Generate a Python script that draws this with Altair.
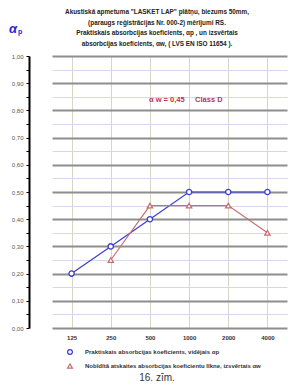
import altair as alt
import pandas as pd

# ---- data ----
freqs = ["125", "250", "500", "1000", "2000", "4000"]
alpha_p = [0.20, 0.30, 0.40, 0.50, 0.50, 0.50]
ref_curve = [None, 0.25, 0.45, 0.45, 0.45, 0.35]
series_names = [
    "Praktiskais absorbcijas koeficients, vidējais αp",
    "Nobīdītā atskaites absorbcijas koeficientu līkne, izsvērtais αw",
]
title_lines = [
    "Akustiskā apmetuma \"LASKET LAP\" plātņu, biezums 50mm,",
    "(paraugs reģistrācijas Nr. 000-2) mērījumi RS.",
    "Praktiskais absorbcijas koeficients, αp , un izsvērtais",
    "absorbcijas koeficients, αw, ( LVS EN ISO 11654 ).",
]
annotation = ["α\u00a0w\u00a0=\u00a00,45\u00a0\u00a0\u00a0\u00a0\u00a0Class\u00a0D"]
caption = ["16. zīm."]
y_ticks = [round(i * 0.05, 2) for i in range(21)]

rows = []
for f, a, r in zip(freqs, alpha_p, ref_curve):
    rows.append({"freq": f, "value": a, "series": series_names[0]})
    if r is not None:
        rows.append({"freq": f, "value": r, "series": series_names[1]})
df = pd.DataFrame(rows)

FONT = "Liberation Sans"
blue = "#3c3cd8"
red = "#c86e6e"

x_enc = alt.X(
    "freq:O",
    sort=freqs,
    scale=alt.Scale(type="point", range=[23, 258]),
    axis=alt.Axis(
        title=None, labelAngle=0, domain=False, ticks=False, grid=True,
        gridColor="#d6d6c4", gridWidth=1, labelFontSize=6, labelFontWeight="bold",
        labelColor="#333333", labelFont=FONT, labelPadding=6,
    ),
)
y_enc = alt.Y(
    "value:Q",
    scale=alt.Scale(domain=[0, 1], nice=False),
    axis=alt.Axis(
        title=None, values=y_ticks, grid=True,
        gridColor={"condition": {"test": "round(datum.value*100) % 10 == 0", "value": "#8e8e8e"}, "value": "#d6d6ee"},
        gridWidth={"condition": {"test": "round(datum.value*100) % 10 == 0", "value": 2}, "value": 1},
        labelExpr="round(datum.value*100) % 10 == 0 ? replace(format(datum.value, '.2f'), '.', ',') : ''",
        labelFontSize=6, labelColor="#555555", labelFont=FONT, labelPadding=3,
        domainColor="#000000", domainWidth=2, tickColor="#000000", tickSize=3, tickWidth=1,
    ),
)
color_scale = alt.Scale(domain=series_names, range=[blue, red])
shape_scale = alt.Scale(domain=series_names, range=["circle", "triangle-up"])

legend = alt.Legend(
    title=None, orient="none", legendX=38, legendY=293, direction="vertical",
    labelFontSize=6, labelFontWeight="bold", labelFont=FONT, labelColor="#333333",
    symbolSize=22, symbolStrokeWidth=1.3, symbolFillColor="white", rowPadding=4,
    labelLimit=300, labelOffset=12,
)

base = alt.Chart(df)

lines = base.mark_line(strokeWidth=1.2).encode(
    x=x_enc, y=y_enc,
    color=alt.Color("series:N", scale=color_scale, legend=legend),
)
points = base.mark_point(filled=False, fill="white", size=28, strokeWidth=1.3, opacity=1).encode(
    x=x_enc, y=y_enc,
    color=alt.Color("series:N", scale=color_scale, legend=legend),
    shape=alt.Shape("series:N", scale=shape_scale, legend=legend),
)

title_text = alt.Chart(pd.DataFrame({"t": ["\n".join(title_lines)]})).mark_text(
    font=FONT, fontSize=6.4, fontWeight="bold", color="#222222", align="center", baseline="top",
    lineBreak="\n", lineHeight=10.5,
).encode(x=alt.value(128), y=alt.value(-47), text="t:N")

alpha_label = alt.Chart(pd.DataFrame({"t": ["α"]})).mark_text(
    font=FONT, fontSize=13, fontWeight="bold", fontStyle="italic", color="#2a2ad0", align="left", baseline="middle"
).encode(x=alt.value(-20), y=alt.value(-27), text="t:N")
alpha_sub = alt.Chart(pd.DataFrame({"t": ["p"]})).mark_text(
    font=FONT, fontSize=7, fontWeight="bold", color="#2a2ad0", align="left", baseline="middle"
).encode(x=alt.value(-11), y=alt.value(-24), text="t:N")

ann = alt.Chart(pd.DataFrame({"t": annotation})).mark_text(
    font=FONT, fontSize=7.5, fontWeight="bold", color="#c0305a", align="left", baseline="middle"
).encode(x=alt.value(120), y=alt.value(44), text="t:N")

cap = alt.Chart(pd.DataFrame({"t": caption})).mark_text(
    font=FONT, fontSize=10, color="#333333", align="center", baseline="middle"
).encode(x=alt.value(128), y=alt.value(322), text="t:N")

chart = alt.layer(lines, points, title_text, alpha_label, alpha_sub, ann, cap).properties(
    width=271, height=272,
    autosize=alt.AutoSizeParams(type="none"),
    padding={"left": 21, "top": 48, "right": 0, "bottom": 54},
    background="white",
).configure_view(stroke=None)

chart.save("out.html", embed_options={"renderer": "svg", "actions": False})
